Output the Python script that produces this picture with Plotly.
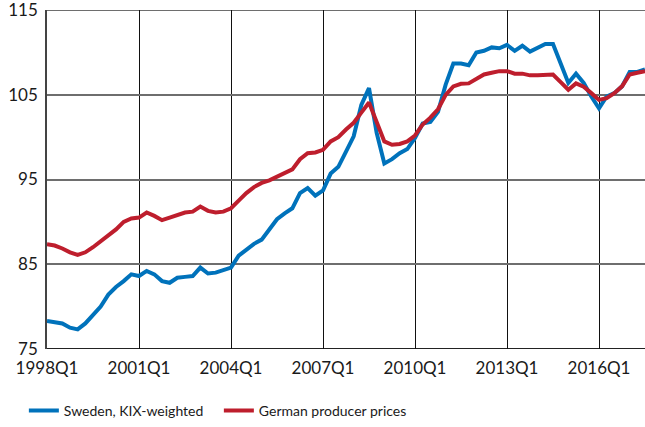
import plotly.graph_objects as go

quarters = [f"{y}Q{q}" for y in range(1998, 2018) for q in range(1, 5)][:79]

sweden_kix = [78.3, 78.2, 78.0, 77.5, 77.3, 78.0, 79.0, 80.0, 81.4, 82.3,
              83.0, 83.8, 83.6, 84.2, 83.8, 83.0, 82.8, 83.4, 83.5, 83.6,
              84.6, 83.9, 84.0, 84.25, 84.6, 86.0, 86.7, 87.4, 87.9, 89.1,
              90.3, 91.0, 91.6, 93.4, 94.0, 93.1, 93.7, 95.7, 96.5, 98.3,
              100.1, 103.8, 105.8, 100.5, 96.9, 97.4, 98.1, 98.6, 99.9, 101.6,
              101.8, 103.0, 106.2, 108.7, 108.7, 108.5, 110.0, 110.2, 110.6, 110.5,
              110.9, 110.2, 110.8, 110.1, 110.5, 111.0, 111.0, 108.7, 106.4, 107.5,
              106.4, 104.8, 103.4, 104.8, 105.2, 106.0, 107.7, 107.7, 108.0]

german_ppi = [87.35, 87.2, 86.85, 86.4, 86.1, 86.4, 87.0, 87.7, 88.4, 89.1,
              90.0, 90.4, 90.5, 91.1, 90.7, 90.2, 90.5, 90.8, 91.1, 91.2,
              91.8, 91.3, 91.1, 91.2, 91.6, 92.5, 93.4, 94.1, 94.6, 94.9,
              95.3, 95.7, 96.2, 97.4, 98.1, 98.2, 98.5, 99.5, 100.0, 100.9,
              101.7, 102.9, 104.1, 101.8, 99.5, 99.1, 99.2, 99.5, 100.2, 101.5,
              102.3, 103.3, 105.0, 106.0, 106.3, 106.35, 106.9, 107.4, 107.6, 107.8,
              107.8, 107.5, 107.5, 107.3, 107.3, 107.35, 107.4, 106.5, 105.6, 106.35,
              105.95, 105.2, 104.4, 104.6, 105.2, 106.0, 107.4, 107.6, 107.8]

x_tick_labels = ["1998Q1", "2001Q1", "2004Q1", "2007Q1", "2010Q1", "2013Q1", "2016Q1"]
y_ticks = [75, 85, 95, 105, 115]

idx = list(range(len(quarters)))
tick_idx = [quarters.index(t) for t in x_tick_labels]

BLUE = "#0072BB"
RED = "#BE1E2D"
FONT = "Lato"

fig = go.Figure()
fig.add_trace(go.Scatter(x=idx, y=sweden_kix, mode="lines", name="Sweden, KIX-weighted",
                         line=dict(color=BLUE, width=4)))
fig.add_trace(go.Scatter(x=idx, y=german_ppi, mode="lines", name="German producer prices",
                         line=dict(color=RED, width=4)))

fig.update_layout(
    width=645, height=427,
    margin=dict(l=47, r=0, t=10, b=78, autoexpand=False),
    paper_bgcolor="white", plot_bgcolor="white",
    font=dict(family=FONT, size=17, color="#1a1a1a"),
    showlegend=True,
    legend=dict(orientation="h", xref="container", yref="container",
                x=0.037, y=0.0, xanchor="left", yanchor="bottom",
                itemwidth=30, entrywidth=150, font=dict(size=14)),
    xaxis=dict(range=[0, 78], tickvals=tick_idx, ticktext=x_tick_labels,
               showgrid=True, gridcolor="#111111", gridwidth=1, automargin=False,
               zeroline=False, showline=False, ticks="", ticklabelstandoff=7),
    yaxis=dict(range=[74.98, 115.02], tickvals=y_ticks, automargin=False,
               showgrid=True, gridcolor="#6e6e6e", gridwidth=1.5,
               zeroline=False, showline=True, linecolor="#444444", linewidth=1.5,
               ticks="", ticklabelstandoff=4, ticklabeloverflow="allow"),
)
fig.add_shape(type="line", xref="paper", yref="y", x0=0, x1=1, y0=75, y1=75,
              line=dict(color="#222222", width=1.5), layer="below")
fig.add_shape(type="line", xref="paper", yref="y", x0=0, x1=1, y0=115, y1=115,
              line=dict(color="#6e6e6e", width=1.5), layer="below")

fig.write_html("out.html", config={"displayModeBar": False},
               post_script="document.body.style.margin='0';")
